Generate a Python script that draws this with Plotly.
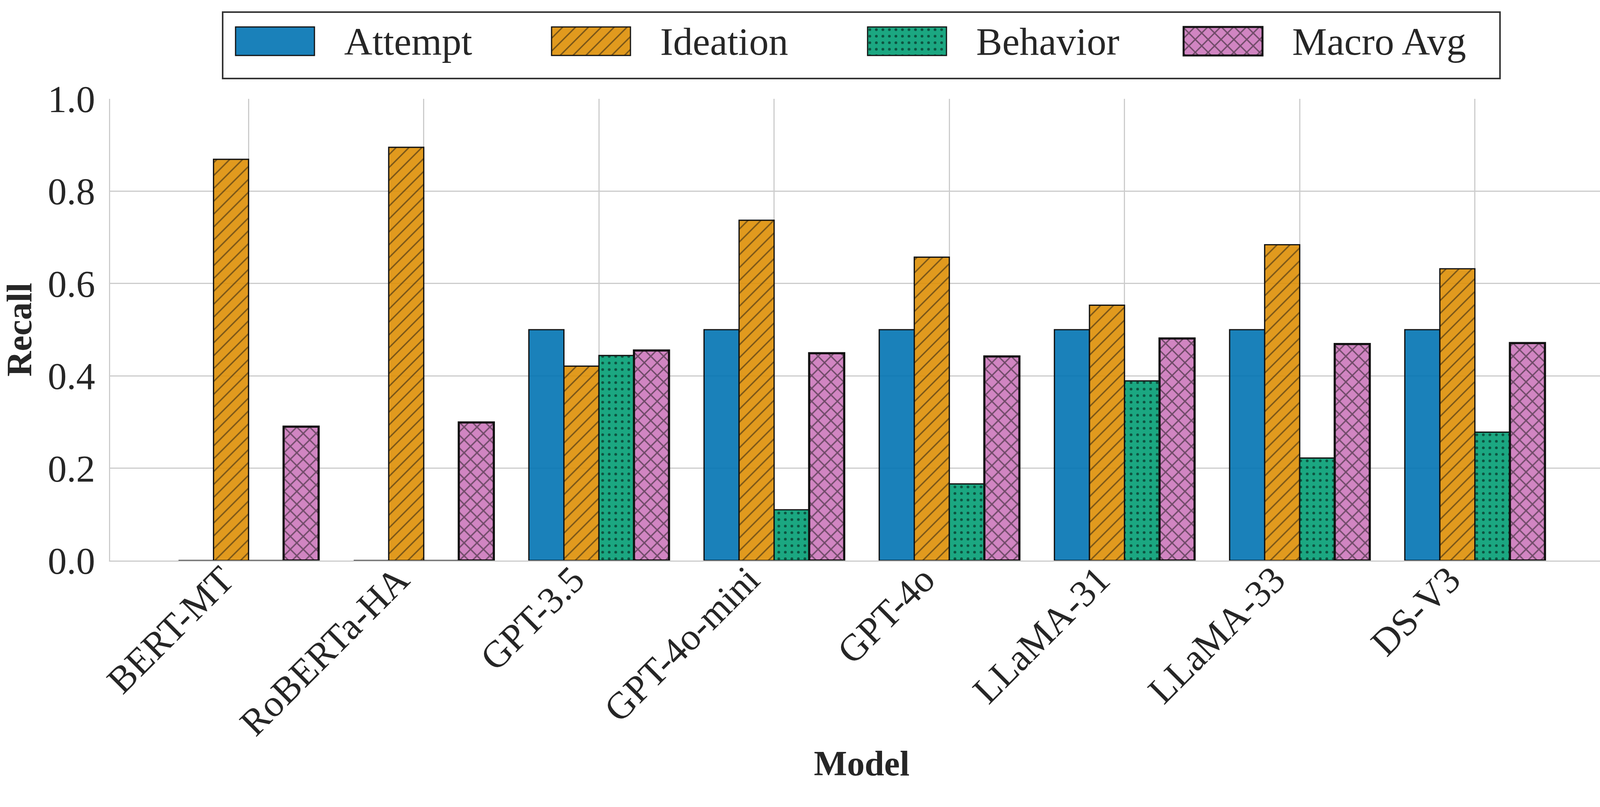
import plotly.graph_objects as go

models = ["BERT-MT", "RoBERTa-HA", "GPT-3.5", "GPT-4o-mini", "GPT-4o", "LLaMA-31", "LLaMA-33", "DS-V3"]
series_names = ["Attempt", "Ideation", "Behavior", "Macro Avg"]
attempt = [0.0, 0.0, 0.500, 0.500, 0.500, 0.500, 0.500, 0.500]
ideation = [0.869, 0.895, 0.421, 0.737, 0.657, 0.553, 0.684, 0.632]
behavior = [0.0, 0.0, 0.444, 0.110, 0.166, 0.389, 0.222, 0.278]
macro_avg = [0.290, 0.299, 0.455, 0.449, 0.442, 0.481, 0.469, 0.471]
y_ticks = [0.0, 0.2, 0.4, 0.6, 0.8, 1.0]

values = [attempt, ideation, behavior, macro_avg]
colors = ["rgba(1,115,178,0.9)", "rgba(222,143,5,0.9)", "rgba(2,158,115,0.9)", "rgba(204,120,188,0.9)"]
patterns = [
    dict(shape=""),
    dict(shape="/", size=23.3, solidity=0.15, fgcolor="#111111", fillmode="overlay"),
    dict(shape=".", size=16.7, solidity=0.14, fgcolor="#000000", fillmode="overlay"),
    dict(shape="x", size=23.3, solidity=0.28, fgcolor="#111111", fillmode="overlay"),
]
edge_w = [3.2, 3.2, 3.2, 5.5]

W, H = 4158, 2066
L, R, T, B = 282, 28, 253, 631
pw, ph = W - L - R, H - T - B

FONT = "Liberation Serif"
TXT = "#262626"
TICK_SIZE = 97
LEGEND_SIZE = 100
TITLE_SIZE = 90

fig = go.Figure()
for name, vals, col, pat, lw in zip(series_names, values, colors, patterns, edge_w):
    fig.add_trace(go.Bar(
        x=models, y=vals, name=name,
        marker=dict(color=col, line=dict(color="#111111", width=lw), pattern=pat),
    ))

def px_x(p):
    return (p - L) / pw

def px_y(p):
    return 1 + (T - p) / ph

fig.update_layout(
    width=W, height=H,
    margin=dict(l=L, r=R, t=T, b=B, autoexpand=False),
    paper_bgcolor="white", plot_bgcolor="white",
    barmode="group", bargap=0.2, bargroupgap=0.0,
    font=dict(family=FONT, size=TICK_SIZE, color=TXT),
    legend=dict(
        orientation="h", x=px_x(567), xanchor="left", y=px_y(101), yanchor="middle",
        font=dict(family=FONT, size=LEGEND_SIZE, color=TXT),
        bgcolor="rgba(0,0,0,0)", borderwidth=0,
        itemwidth=304, entrywidth=490, entrywidthmode="pixels",
        traceorder="normal",
    ),
    shapes=[dict(type="rect", xref="paper", yref="paper",
                 x0=px_x(570), x1=px_x(3840), y0=px_y(201), y1=px_y(31),
                 line=dict(color="#333333", width=4), fillcolor="rgba(0,0,0,0)", layer="above")],
)

fig.update_xaxes(
    range=[-0.79, 7.79], tickangle=-45, showgrid=True, gridcolor="#cccccc", gridwidth=3,
    showline=True, linecolor="#cccccc", linewidth=3, mirror=False, ticks="",
    tickfont=dict(family=FONT, size=TICK_SIZE, color=TXT), ticklabelstandoff=-50, ticklabelshift=-66,
    title=dict(text="Model", font=dict(family=FONT, size=TITLE_SIZE, color=TXT, weight="bold"), standoff=20),
    automargin=False,
)
fig.update_yaxes(
    range=[0, 1.0], tickvals=y_ticks, tickformat=".1f", showgrid=True, gridcolor="#cccccc", gridwidth=3,
    showline=True, linecolor="#cccccc", linewidth=3, mirror=False, zeroline=False, ticks="",
    tickfont=dict(family=FONT, size=TICK_SIZE, color=TXT), ticklabelstandoff=16,
    title=dict(text="Recall", font=dict(family=FONT, size=TITLE_SIZE, color=TXT, weight="bold"), standoff=28),
    automargin=False,
)

post = """
document.documentElement.style.margin = '0';
document.body.style.margin = '0';
document.body.style.padding = '0';
var gd = document.getElementById('{plot_id}');
var legW = [3, 3, 3, 5];
function fixLegend(){
  var bars = gd.querySelectorAll('g.barlayer g.trace.bars');
  var items = gd.querySelectorAll('g.legend g.traces');
  items.forEach(function(it, i){
    var txt = it.querySelector('text.legendtext');
    if(!txt) return;
    var tx = parseFloat(txt.getAttribute('x')) || 0;
    var fill = null;
    if(bars[i]){
      var bp = bars[i].querySelector('g.point path');
      if(bp) fill = bp.style.fill;
    }
    var paths = it.querySelectorAll('g.legendpoints path');
    paths.forEach(function(p){
      p.removeAttribute('transform');
      p.setAttribute('d', 'M' + (tx - 278) + ',-32H' + (tx - 76) + 'V41H' + (tx - 278) + 'Z');
      if(fill) p.style.fill = fill;
      p.style.strokeWidth = legW[i] + 'px';
      p.style.stroke = '#111111';
    });
  });
}
fixLegend();
gd.on('plotly_afterplot', fixLegend);
"""

fig.write_html("out.html", post_script=post, config={"displayModeBar": False})
